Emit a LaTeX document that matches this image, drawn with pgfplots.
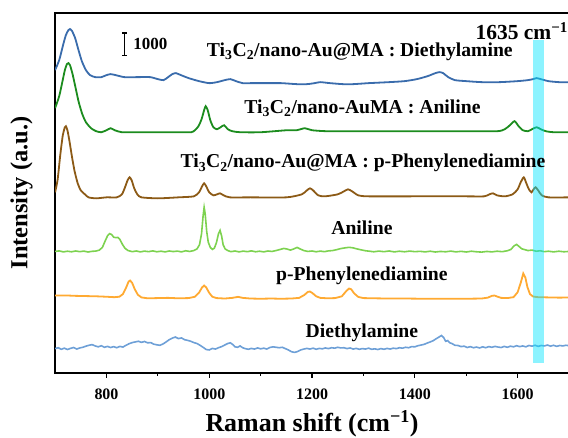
\documentclass[border=0pt]{standalone}
\usepackage{fontspec}
\setmainfont{Liberation Serif}
\usepackage{pgfplots}
\usepackage{pgfplotstable}
\pgfplotsset{compat=1.18}

\definecolor{cDEAcol}{RGB}{58,108,172}
\definecolor{cANIcol}{RGB}{28,140,30}
\definecolor{cPPDcol}{RGB}{140,90,22}
\definecolor{ANIcol}{RGB}{125,210,80}
\definecolor{PPDcol}{RGB}{255,170,50}
\definecolor{DEAcol}{RGB}{110,160,215}
\definecolor{bandcol}{RGB}{0,228,255}

% Spectra: wavenumber (cm^-1) and intensity (counts) relative to each trace's baseline
\pgfplotstableread{
w I
700 540
708 990
715 1620
721 2115
726 2340
729 2385
733 2295
739 1980
745 1485
752 945
760 540
768 315
778 225
790 225
800 315
808 360
818 315
835 225
860 225
885 225
900 135
911 90
920 225
928 360
935 405
945 315
960 180
980 45
1000 -45
1015 0
1030 90
1041 135
1052 45
1065 -45
1080 -45
1110 -45
1140 -45
1170 -90
1190 -90
1205 -45
1216 0
1235 -45
1260 -90
1280 -90
1310 -45
1350 0
1380 45
1404 135
1425 270
1440 405
1448 450
1455 405
1465 225
1478 90
1500 45
1530 0
1565 0
1600 45
1620 90
1630 135
1637 180
1645 135
1660 45
1680 0
1700 0
}\cDEA

\pgfplotstableread{
w I
700 1080
708 1620
714 2250
719 2790
723 3060
726 3105
729 3015
734 2610
740 1980
746 1350
753 810
760 450
770 180
780 45
790 0
800 90
808 180
816 90
830 0
860 0
900 0
940 0
965 0
972 90
979 270
985 585
990 990
993 1170
997 990
1002 540
1008 225
1015 135
1022 225
1029 315
1036 135
1045 45
1060 0
1100 0
1151 90
1170 90
1186 180
1200 90
1230 45
1300 45
1400 45
1500 45
1560 45
1575 135
1585 315
1594 495
1602 270
1610 90
1620 45
1628 135
1637 225
1645 135
1655 45
1670 0
1700 0
}\cANI

\pgfplotstableread{
w I
700 225
705 810
710 1890
715 2790
719 3150
721 3195
724 3015
728 2520
733 1800
738 1170
744 630
750 315
758 135
765 0
780 -45
800 0
820 0
830 135
836 450
841 765
845 900
849 765
854 405
860 135
868 0
900 -45
940 0
970 45
980 225
986 495
990 630
994 495
1000 225
1008 90
1015 135
1021 180
1028 90
1040 0
1080 0
1150 0
1180 135
1190 315
1196 405
1202 315
1212 90
1225 45
1250 135
1262 270
1270 360
1278 270
1290 90
1310 45
1400 45
1500 45
1535 45
1545 135
1552 180
1560 90
1575 45
1590 135
1600 360
1606 675
1612 900
1617 630
1622 360
1627 225
1631 360
1635 450
1640 315
1647 90
1660 0
1700 0
}\cPPD

\pgfplotstableread{
w I
700 0
708 25
716 -20
724 10
732 -15
740 20
748 -10
756 15
764 -25
772 5
780 20
786 60
792 180
797 450
802 700
806 800
810 760
814 640
818 620
822 630
826 540
831 320
836 140
842 40
850 -10
858 20
866 -20
874 15
882 -10
890 25
898 -15
906 10
914 -20
922 20
930 -5
938 15
946 -20
954 30
962 0
970 40
976 110
981 300
985 800
988 1600
990 1980
992 1700
995 900
998 420
1002 180
1006 90
1010 150
1014 400
1018 800
1021 945
1024 700
1027 300
1031 110
1036 40
1042 -10
1050 20
1058 -20
1066 15
1074 -10
1082 25
1090 -15
1098 10
1106 -20
1114 20
1122 0
1130 40
1138 90
1145 135
1151 110
1158 60
1164 110
1171 180
1177 110
1184 40
1192 0
1200 20
1208 -15
1216 15
1224 -10
1232 25
1240 40
1248 80
1256 130
1264 160
1272 185
1280 160
1288 110
1296 70
1304 30
1312 10
1320 -15
1330 15
1340 -10
1350 20
1360 -20
1370 10
1380 -15
1390 15
1400 -10
1410 5
1420 -20
1430 10
1440 -25
1450 0
1460 -15
1470 15
1480 -20
1490 5
1500 -25
1510 10
1520 -15
1530 -30
1540 0
1550 -20
1560 10
1570 -10
1580 30
1587 90
1593 250
1598 315
1603 220
1608 120
1614 80
1620 40
1628 60
1636 10
1644 30
1652 -10
1660 10
1670 -20
1680 10
1690 -15
1700 0
}\ANI

\pgfplotstableread{
w I
700 135
720 140
740 120
760 110
780 100
800 80
815 60
825 80
832 200
838 480
843 760
846 810
850 700
855 420
861 170
868 50
880 10
900 20
920 30
940 10
960 20
972 80
980 260
986 500
990 585
994 500
1000 250
1006 80
1014 20
1030 0
1045 30
1056 75
1065 30
1080 0
1100 -10
1120 0
1140 -10
1160 0
1175 30
1185 160
1192 300
1196 315
1201 240
1208 100
1216 30
1230 10
1245 20
1258 100
1266 320
1272 450
1276 420
1282 230
1290 70
1300 20
1320 10
1350 0
1380 0
1420 -10
1460 -10
1500 -10
1530 0
1542 40
1550 120
1555 135
1560 90
1568 30
1580 20
1592 60
1600 280
1606 700
1611 1125
1615 950
1619 520
1624 200
1630 90
1640 60
1660 50
1680 40
1700 45
}\PPD

\pgfplotstableread{
w I
700 0
706 40
712 -30
718 20
724 -40
730 10
736 50
742 -20
748 30
754 60
760 110
766 150
772 180
778 120
784 80
790 130
796 60
802 100
808 50
814 90
820 40
826 100
832 70
838 150
844 220
850 270
856 300
862 330
868 280
874 320
880 260
886 270
892 200
898 170
904 150
910 210
916 300
922 400
928 470
934 520
940 450
946 480
952 400
958 370
964 330
970 270
976 230
982 150
988 60
994 -40
1000 -60
1006 10
1012 -20
1018 40
1024 90
1030 160
1036 230
1041 260
1046 180
1050 80
1055 60
1060 120
1065 40
1070 0
1076 -30
1082 10
1088 -20
1094 30
1100 -10
1106 20
1112 -20
1118 50
1124 80
1130 60
1136 40
1142 60
1148 0
1154 -60
1160 -140
1166 -170
1172 -130
1178 -60
1184 -20
1190 10
1196 -20
1202 20
1208 -30
1214 10
1220 -10
1226 30
1232 0
1238 40
1244 20
1250 60
1256 30
1262 40
1268 0
1274 30
1280 -20
1286 10
1292 -30
1298 0
1304 -20
1310 20
1316 -30
1322 -10
1328 -40
1334 0
1340 -30
1346 10
1352 -20
1358 20
1364 0
1370 40
1376 20
1382 60
1388 40
1394 90
1400 80
1406 130
1412 160
1418 190
1424 250
1430 300
1436 360
1442 450
1447 520
1452 590
1456 500
1460 330
1464 360
1468 260
1472 230
1478 150
1484 140
1490 90
1496 110
1502 50
1508 90
1514 40
1520 70
1526 30
1532 80
1538 40
1544 90
1550 60
1556 100
1562 70
1568 50
1574 100
1580 60
1586 110
1592 80
1598 130
1604 90
1610 120
1616 80
1622 140
1628 110
1634 150
1640 100
1646 140
1652 120
1658 160
1664 110
1670 150
1676 100
1682 140
1688 120
1694 150
1700 130
}\DEA

\begin{document}
\begin{tikzpicture}
\begin{axis}[
  scale only axis,
  width=513bp, height=359bp,
  xmin=700, xmax=1700, ymin=0, ymax=16155,
  xtick={800,1000,1200,1400,1600},
  minor x tick num=1,
  ytick=\empty,
  xtick pos=lower,
  tick align=outside,
  major tick length=5bp, minor tick length=3bp,
  every tick/.style={black, line width=1.2bp},
  axis line style={line width=2bp},
  /pgf/number format/assume math mode=true,
  /pgf/number format/1000 sep={},
  xticklabel={\textbf{\pgfmathprintnumber{\tick}}},
  xticklabel style={font=\fontsize{16}{18}\selectfont\bfseries, yshift=-8bp},
  xlabel={Raman shift (cm\textsuperscript{−1})},
  ylabel={Intensity (a.u.)},
  label style={font=\fontsize{26}{29}\selectfont\bfseries},
  xlabel style={yshift=-4bp},
  ylabel style={yshift=14bp, font=\fontsize{24.5}{27}\selectfont\bfseries},
  every axis plot/.append style={line width=1.8bp},
  clip=true,
]
% reference samples
\addplot[DEAcol, line width=1.6bp] table[x=w, y expr=\thisrow{I}+1080] {\DEA};
\addplot[PPDcol] table[x=w, y expr=\thisrow{I}+3330] {\PPD};
\addplot[ANIcol, line width=1.6bp] table[x=w, y expr=\thisrow{I}+5445] {\ANI};
% Ti3C2/nano-Au@MA composites with each analyte
\addplot[cPPDcol, smooth, tension=0.4] table[x=w, y expr=\thisrow{I}+7875] {\cPPD};
\addplot[cANIcol, smooth, tension=0.4] table[x=w, y expr=\thisrow{I}+10800] {\cANI};
\addplot[cDEAcol, smooth, tension=0.4] table[x=w, y expr=\thisrow{I}+13050] {\cDEA};

% highlighted band around 1635 cm^-1
\fill[bandcol, opacity=0.45] (axis cs:1629,450) rectangle (axis cs:1651,14940);

% intensity scale bar (1000 counts)
\addplot[black, line width=1.2bp] coordinates {(835,14260) (835,15260)};
\addplot[black, line width=1.2bp] coordinates {(831,14260) (839,14260)};
\addplot[black, line width=1.2bp] coordinates {(831,15260) (839,15260)};

\begin{scope}[every node/.style={font=\fontsize{19.7}{22}\selectfont\bfseries, inner sep=0pt}]
\node at (axis cs:1293,14400) {Ti\textsubscript{3}C\textsubscript{2}/nano-Au@MA : Diethylamine};
\node at (axis cs:1298,11880) {Ti\textsubscript{3}C\textsubscript{2}/nano-AuMA : Aniline};
\node at (axis cs:1299,9405) {Ti\textsubscript{3}C\textsubscript{2}/nano-Au@MA : p-Phenylenediamine};
\node at (axis cs:1297,6525) {Aniline};
\node at (axis cs:1297,4365) {p-Phenylenediamine};
\node at (axis cs:1297,1800) {Diethylamine};
\end{scope}
\node[font=\fontsize{21.5}{24}\selectfont\bfseries, inner sep=0pt] at (axis cs:1608,15345) {1635 cm\textsuperscript{−1}};
\node[font=\fontsize{17}{19}\selectfont\bfseries, inner sep=0pt, anchor=west] at (axis cs:852,14760) {1000};
\end{axis}
\pgfresetboundingbox
\path[use as bounding box] (-55bp,-65bp) rectangle (512bp,372bp);
\end{tikzpicture}
\end{document}
